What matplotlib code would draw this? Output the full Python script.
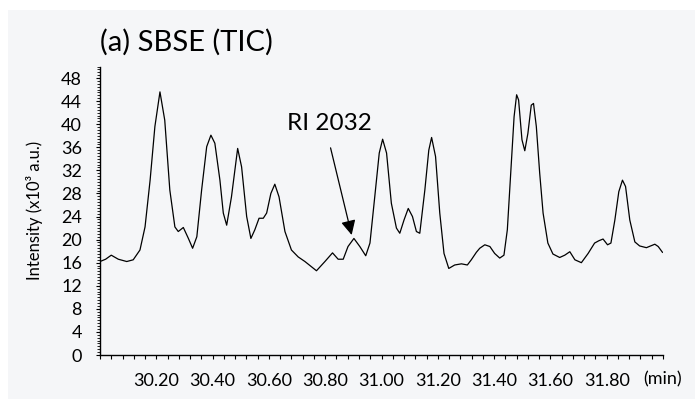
import matplotlib
matplotlib.use("Agg")
import matplotlib.pyplot as plt
from matplotlib.patches import Rectangle
from matplotlib.ticker import MultipleLocator
from matplotlib.transforms import blended_transform_factory

plt.rcParams['font.family'] = ['Lato', 'DejaVu Sans']

# retention time (min) and TIC intensity (x10^3 a.u.)
rt = [30.000, 30.020, 30.040, 30.065, 30.095, 30.118, 30.142, 30.160, 30.178, 30.195,
      30.213, 30.230, 30.248, 30.266, 30.278, 30.296, 30.314, 30.329, 30.344, 30.361,
      30.379, 30.394, 30.408, 30.426, 30.438, 30.450, 30.467, 30.489, 30.503, 30.521,
      30.536, 30.550, 30.565, 30.580, 30.592, 30.607, 30.621, 30.636, 30.657, 30.680,
      30.704, 30.728, 30.769, 30.799, 30.826, 30.846, 30.864, 30.881, 30.902, 30.923,
      30.944, 30.959, 30.976, 30.992, 31.004, 31.018, 31.035, 31.053, 31.065, 31.080,
      31.095, 31.110, 31.124, 31.136, 31.154, 31.168, 31.178, 31.192, 31.207, 31.222,
      31.239, 31.260, 31.284, 31.305, 31.319, 31.337, 31.349, 31.367, 31.385, 31.402,
      31.420, 31.435, 31.447, 31.459, 31.471, 31.480, 31.487, 31.499, 31.509, 31.520,
      31.532, 31.540, 31.550, 31.562, 31.574, 31.591, 31.609, 31.633, 31.651, 31.669,
      31.687, 31.710, 31.734, 31.757, 31.772, 31.787, 31.803, 31.815, 31.829, 31.843,
      31.856, 31.867, 31.882, 31.900, 31.917, 31.941, 31.971, 31.983, 31.998]
tic = [16.2, 16.6, 17.3, 16.6, 16.2, 16.5, 18.2, 22.2, 30.3, 39.6,
       45.6, 40.7, 28.6, 22.2, 21.4, 22.1, 20.2, 18.5, 20.5, 28.6,
       36.1, 38.1, 36.7, 30.3, 24.6, 22.5, 27.4, 35.8, 32.6, 24.0,
       20.2, 21.7, 23.7, 23.7, 24.6, 28.0, 29.6, 27.4, 21.4, 18.2,
       17.0, 16.2, 14.6, 16.2, 17.7, 16.6, 16.6, 18.8, 20.2, 18.8,
       17.2, 19.4, 27.4, 35.0, 37.4, 35.0, 26.3, 22.0, 21.1, 23.4,
       25.4, 24.0, 21.4, 21.1, 28.6, 35.5, 37.7, 34.4, 24.6, 17.6,
       15.0, 15.6, 15.8, 15.6, 16.5, 17.8, 18.5, 19.1, 18.8, 17.6,
       16.8, 17.3, 21.7, 31.5, 41.3, 45.1, 44.2, 37.3, 35.4, 38.4,
       43.3, 43.6, 39.6, 31.5, 24.6, 19.4, 17.5, 16.9, 17.3, 17.9,
       16.5, 16.0, 17.6, 19.4, 19.8, 20.1, 19.1, 19.4, 23.4, 28.3,
       30.3, 29.2, 23.4, 19.6, 18.9, 18.6, 19.2, 18.8, 17.8]

x_ticks = [30.2, 30.4, 30.6, 30.8, 31.0, 31.2, 31.4, 31.6, 31.8]
x_labels = ['30.20', '30.40', '30.60', '30.80', '31.00', '31.20', '31.40',
            '31.60', '31.80']
x_unit = '(min)'
y_ticks = list(range(0, 49, 4))

peak_label = 'RI 2032'
peak_xy = (30.894, 20.8)

W, H = 695, 399
fig = plt.figure(figsize=(W / 100, H / 100), dpi=100, facecolor='white')
bg = '#f5f6f8'
fig.add_artist(Rectangle((8 / W, 0), 1 - 8 / W, 1 - 10 / H,
                         transform=fig.transFigure, facecolor=bg,
                         edgecolor='none', zorder=-10))

ax = fig.add_axes([100 / W, 44 / H, 563 / W, 288.5 / H])
ax.set_facecolor('none')
ax.plot(rt, tic, color='black', lw=0.9)

ax.set_xlim(30.0, 32.0)
ax.set_ylim(0, 50)
for s in ['top', 'right']:
    ax.spines[s].set_visible(False)
for s in ['left', 'bottom']:
    ax.spines[s].set_linewidth(1.0)

ax.set_xticks(x_ticks)
ax.set_xticklabels(x_labels)
ax.xaxis.set_minor_locator(MultipleLocator(0.04))
ax.set_yticks(y_ticks)
ax.yaxis.set_minor_locator(MultipleLocator(0.5))
ax.tick_params(axis='x', which='both', direction='out', length=3, width=0.8,
               pad=10, labelsize=13)
ax.tick_params(axis='y', which='major', direction='out', length=3, width=0.8,
               pad=10, labelsize=13)
ax.tick_params(axis='y', which='minor', direction='out', length=2, width=0.6)

# unit label sits on the tick-label row at the right end of the axis
ax.text(32.0, -29 / 288.5, x_unit, fontsize=13, ha='center', va='baseline',
        transform=blended_transform_factory(ax.transData, ax.transAxes))

ax.set_ylabel('Intensity (x10³ a.u.)', fontsize=12, labelpad=13)

fig.text(100 / W, 1 - 51 / H, '(a) SBSE (TIC)', fontsize=21,
         ha='left', va='baseline')

ax.text(30.816, 40.2, peak_label, fontsize=17.5, ha='center', va='center')
ax.annotate('', xy=peak_xy, xytext=(30.819, 35.9),
            arrowprops=dict(arrowstyle='-|>', color='black', lw=0.9,
                            mutation_scale=22, shrinkA=0, shrinkB=0))

fig.savefig('out.png', dpi=100, facecolor=fig.get_facecolor())
